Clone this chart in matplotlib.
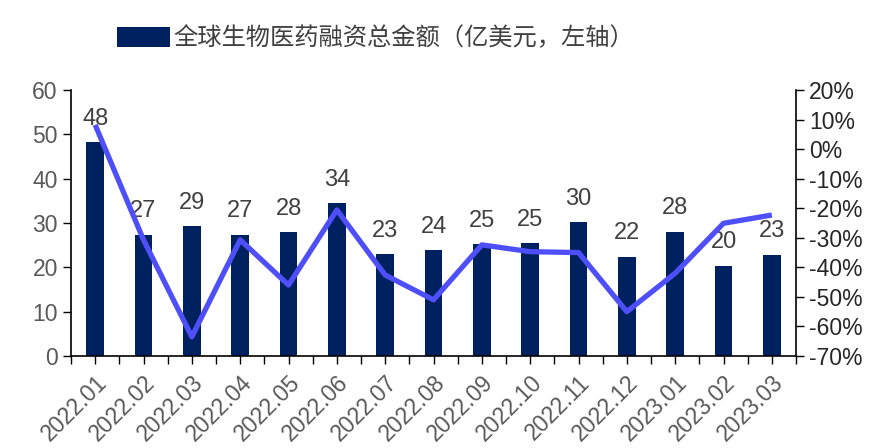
import matplotlib
matplotlib.use("Agg")
import matplotlib.pyplot as plt
import numpy as np

plt.rcParams['font.family'] = ['Liberation Sans', 'Noto Sans CJK SC', 'DejaVu Sans']

# data
months = ["2022.01", "2022.02", "2022.03", "2022.04", "2022.05", "2022.06", "2022.07",
          "2022.08", "2022.09", "2022.10", "2022.11", "2022.12", "2023.01", "2023.02", "2023.03"]
amount = [48.2, 27.4, 29.3, 27.4, 27.9, 34.4, 22.9, 23.9, 25.2, 25.4, 30.2, 22.4, 28.0, 20.4, 22.8]
growth = [8.2, -30.7, -63.5, -30.7, -46.0, -20.6, -42.6, -51.0, -32.4, -34.7, -35.0, -55.0, -42.0, -25.1, -22.3]
legend_label = "全球生物医药融资总金额（亿美元，左轴）"

bar_color = "#00215F"
line_color = "#4F4FFA"
gray = "#595959"

fig = plt.figure(figsize=(8.73, 4.48), dpi=100)
ax = fig.add_axes([71/873, 1-356/448, (796-71)/873, (356-90)/448])
x = np.arange(len(months))

bars = ax.bar(x, amount, width=0.36, color=bar_color, label=legend_label, zorder=2)
for xi, v in zip(x, amount):
    ax.annotate("{:.0f}".format(v), (xi, v), xytext=(0, 9), textcoords="offset points",
                ha="center", va="bottom", fontsize=17, color="#404040", zorder=5)

ax.set_xlim(-0.5, len(months) - 0.5)
ax.set_ylim(0, 60)
ax.set_yticks(np.arange(0, 61, 10))
ax.set_xticks(np.arange(-0.5, len(months), 0.5))
ax.set_xticklabels(["" if i % 2 == 0 else months[i // 2] for i in range(2 * len(months) + 1)],
                   rotation=45, ha="right", va="top", rotation_mode="anchor")
ax.tick_params(axis="x", length=6, width=1, pad=5, labelsize=16.5, labelcolor=gray, direction="out")
ax.tick_params(axis="y", length=6, width=1, labelsize=16.5, labelcolor=gray, direction="out")
for s in ["top", "right"]:
    ax.spines[s].set_visible(False)
ax.spines["left"].set_linewidth(1.2)
ax.spines["bottom"].set_linewidth(1.2)

ax2 = ax.twinx()
ax2.plot(x, growth, color=line_color, lw=3.8, solid_capstyle="butt", zorder=3)
ax2.set_ylim(-70, 20)
ax2.set_yticks(np.arange(-70, 21, 10))
ax2.set_yticklabels(["{:d}%".format(v) for v in range(-70, 21, 10)])
ax2.tick_params(axis="y", length=6, width=1, labelsize=16.5, labelcolor="#262626", direction="out")
for s in ["top", "left", "bottom"]:
    ax2.spines[s].set_visible(False)
ax2.spines["right"].set_linewidth(1.2)

fig.legend(handles=[bars], labels=[legend_label], loc="upper left",
           bbox_to_anchor=(117/873, 1 - 25/448), frameon=False, borderaxespad=0, borderpad=0,
           prop={"family": "Noto Sans CJK SC", "size": 17.5},
           labelcolor="#404040", handlelength=2.2, handleheight=0.9, handletextpad=0.1)

fig.savefig("out.png", dpi=100)
